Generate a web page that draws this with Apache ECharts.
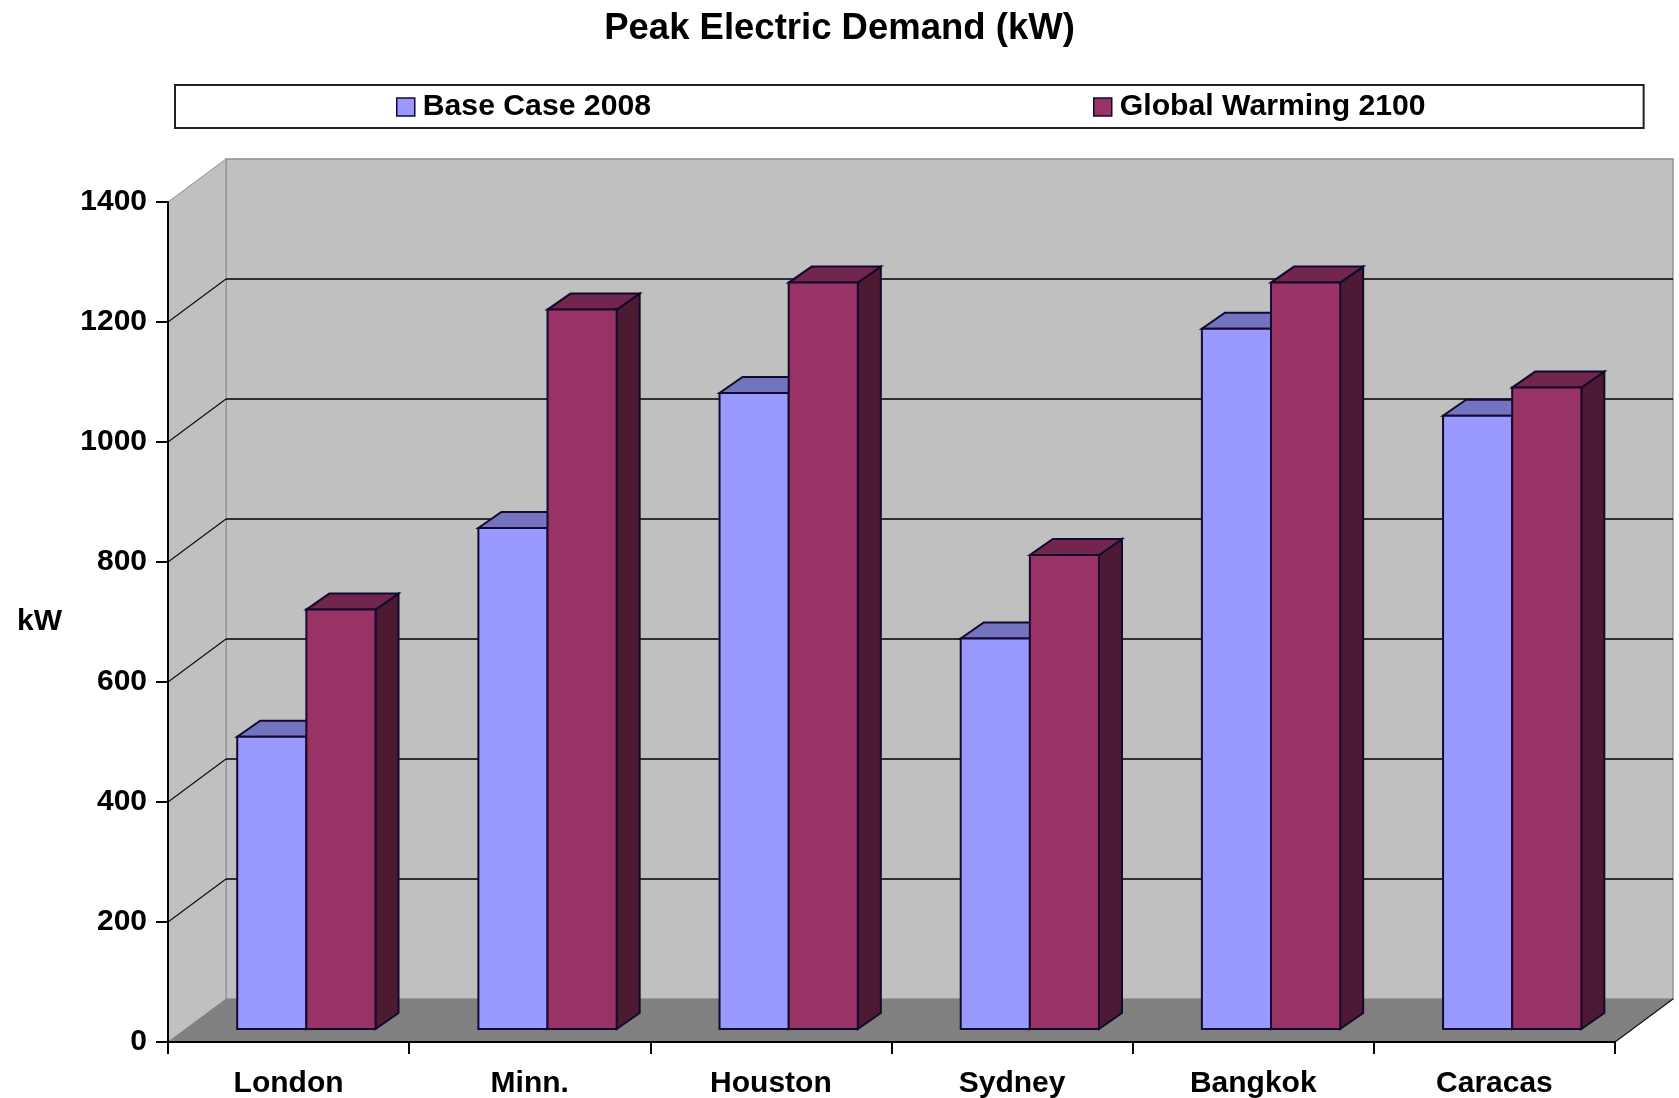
<!DOCTYPE html>
<html>
<head>
<meta charset="utf-8">
<title>Peak Electric Demand</title>
<script src="https://cdn.jsdelivr.net/npm/echarts@6/dist/echarts.min.js"></script>
<style>
html, body { margin: 0; padding: 0; background: #fff; }
#chart { width: 1679px; height: 1098px; }
</style>
</head>
<body>
<div id="chart"></div>
<script>
const categories = ['London', 'Minn.', 'Houston', 'Sydney', 'Bangkok', 'Caracas']
const baseCase = [487, 835, 1060, 651, 1167, 1022]
const globalWarming = [699, 1199, 1244, 790, 1244, 1069]
const yTicks = [0, 200, 400, 600, 800, 1000, 1200, 1400]

const font = '"Liberation Sans", Arial, sans-serif'

// fake 3d projection: how far the back wall and the bars sit from the front plane
const wallDx = 58
const wallDy = 43
const barFrontDy = 13
const barDepthDx = 23
const barDepthDy = 16
const barLeft = 0.287
const barWidth = 0.2867

const poly = (points, fill, stroke, lineWidth) => ({
  type: 'polygon',
  shape: { points },
  style: { fill, stroke, lineWidth, lineJoin: 'miter' }
})

const line = (p1, p2, stroke, lineWidth) => ({
  type: 'line',
  shape: { x1: p1[0], y1: p1[1], x2: p2[0], y2: p2[1] },
  style: { stroke, lineWidth }
})

function renderWalls (params, api) {
  const left = api.coord([0, 0])[0] - api.size([1, 0])[0] / 2
  const right = left + api.size([1, 0])[0] * categories.length
  const yAt = v => api.coord([0, v])[1]
  const y0 = yAt(0)
  const yTop = yAt(yTicks[yTicks.length - 1])
  const children = [
    poly([[left + wallDx, y0 - wallDy], [right + wallDx, y0 - wallDy], [right + wallDx, yTop - wallDy], [left + wallDx, yTop - wallDy]], '#c0c0c0', '#909090', 1.5),
    poly([[left, y0], [left + wallDx, y0 - wallDy], [left + wallDx, yTop - wallDy], [left, yTop]], '#c0c0c0', '#909090', 1),
    poly([[left, y0], [right, y0], [right + wallDx, y0 - wallDy], [left + wallDx, y0 - wallDy]], '#808080', null, 0),
    line([right, y0], [right + wallDx, y0 - wallDy], '#111', 1.2)
  ]
  yTicks.slice(1, -1).forEach(v => {
    const y = yAt(v)
    children.push(line([left + wallDx, y - wallDy], [right + wallDx, y - wallDy], '#000', 1.7))
    children.push(line([left, y], [left + wallDx, y - wallDy], '#111', 1.2))
  })
  return { type: 'group', children }
}

function barRenderer (seriesIndex, front, top, side) {
  return function (params, api) {
    const cat = api.value(0)
    const catWidth = api.size([1, 0])[0]
    const start = api.coord([cat, 0])[0] - catWidth / 2
    const x1 = start + catWidth * (barLeft + barWidth * seriesIndex)
    const x2 = x1 + catWidth * barWidth
    const yBase = api.coord([cat, 0])[1] - barFrontDy
    const yTop = api.coord([cat, api.value(1)])[1] - barFrontDy
    const outline = '#14082e'
    return {
      type: 'group',
      children: [
        poly([[x2, yBase], [x2 + barDepthDx, yBase - barDepthDy], [x2 + barDepthDx, yTop - barDepthDy], [x2, yTop]], side, outline, 2),
        poly([[x1, yTop], [x2, yTop], [x2 + barDepthDx, yTop - barDepthDy], [x1 + barDepthDx, yTop - barDepthDy]], top, outline, 2),
        poly([[x1, yBase], [x2, yBase], [x2, yTop], [x1, yTop]], front, outline, 2)
      ]
    }
  }
}

const chart = echarts.init(document.getElementById('chart'))

chart.setOption({
  backgroundColor: '#fff',
  animation: false,
  textStyle: { fontFamily: font },
  title: {
    text: 'Peak Electric Demand (kW)',
    left: 'center',
    top: 10,
    padding: 0,
    textStyle: { fontFamily: font, fontSize: 36.5, fontWeight: 'bold', color: '#000' }
  },
  legend: {
    data: ['Base Case 2008', 'Global Warming 2100'],
    left: 175,
    top: 85,
    orient: 'horizontal',
    icon: 'rect',
    itemWidth: 18,
    itemHeight: 18,
    itemGap: 442,
    padding: [7, 218, 6, 221],
    backgroundColor: '#fff',
    borderColor: '#222',
    borderWidth: 2,
    itemStyle: { borderColor: '#14082e', borderWidth: 1.5 },
    textStyle: { fontFamily: font, fontSize: 30.2, fontWeight: 'bold', color: '#000', lineHeight: 30, padding: [0, 0, 0, 3] }
  },
  grid: { left: 168, right: 64, top: 202, bottom: 56, outerBoundsMode: 'none' },
  xAxis: {
    type: 'category',
    data: categories,
    z: 10,
    axisLine: { lineStyle: { color: '#000', width: 2 } },
    axisTick: { show: true, alignWithLabel: false, length: 12, lineStyle: { color: '#000', width: 2 } },
    axisLabel: { fontFamily: font, fontSize: 30, fontWeight: 'bold', color: '#000', margin: 27 }
  },
  yAxis: {
    type: 'value',
    min: 0,
    max: 1400,
    interval: 200,
    name: 'kW',
    nameLocation: 'middle',
    nameRotate: 0,
    nameGap: 106,
    nameTextStyle: { fontFamily: font, fontSize: 30, fontWeight: 'bold', color: '#000' },
    z: 10,
    splitLine: { show: false },
    axisLine: { show: true, lineStyle: { color: '#000', width: 2 } },
    axisTick: { show: true, length: 12, lineStyle: { color: '#000', width: 2 } },
    axisLabel: { fontFamily: font, fontSize: 30, fontWeight: 'bold', color: '#000', margin: 21, formatter: v => String(v) }
  },
  series: [
    {
      type: 'custom',
      silent: true,
      z: 1,
      clip: false,
      renderItem: renderWalls,
      encode: { x: 0, y: 1 },
      data: [[0, 0]]
    },
    {
      type: 'custom',
      name: 'Base Case 2008',
      z: 2,
      clip: false,
      itemStyle: { color: '#9999ff' },
      renderItem: barRenderer(0, '#9999ff', '#7373bf', '#4d4d80'),
      encode: { x: 0, y: 1 },
      data: baseCase.map((v, i) => [i, v])
    },
    {
      type: 'custom',
      name: 'Global Warming 2100',
      z: 3,
      clip: false,
      itemStyle: { color: '#993366' },
      renderItem: barRenderer(1, '#993366', '#73264d', '#4d1a33'),
      encode: { x: 0, y: 1 },
      data: globalWarming.map((v, i) => [i, v])
    }
  ]
})
</script>
</body>
</html>
